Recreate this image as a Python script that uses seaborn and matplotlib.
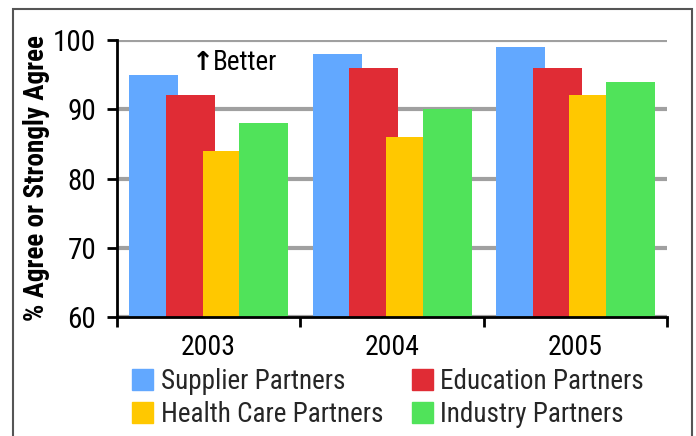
import matplotlib
matplotlib.use("Agg")
import matplotlib.pyplot as plt
import matplotlib.patches as mpatches
import seaborn as sns
import pandas as pd

years = ["2003", "2004", "2005"]
series = ["Supplier Partners", "Education Partners", "Health Care Partners", "Industry Partners"]
supplier = [95, 98, 99]
education = [92, 96, 96]
health = [84, 86, 92]
industry = [88, 90, 94]
colors = ["#62A8FF", "#E02C35", "#FFC800", "#50E35A"]
y_ticks = [60, 70, 80, 90, 100]

sns.set_theme(style="white")
plt.rcParams["font.family"] = ["Roboto Condensed", "DejaVu Sans"]

rows = []
for s, vals in zip(series, [supplier, education, health, industry]):
    for y, v in zip(years, vals):
        rows.append({"Year": y, "Series": s, "Value": v})
df = pd.DataFrame(rows)

fig = plt.figure(figsize=(6.96, 4.36), dpi=100)
ax = fig.add_axes([117/696, 1-317/436, 550/696, 277/436])

sns.barplot(data=df, x="Year", y="Value", hue="Series", hue_order=series,
            palette=colors, width=0.8, saturation=1, ax=ax, legend=False)

# widen bars so they overlap like the original
bw = 49/183.3
for p in ax.patches:
    p.set_x(p.get_x() - 0.033)
    p.set_width(bw)
    p.set_edgecolor("none")
    p.set_linewidth(0)

ax.set_ylim(60, 100)
ax.set_xlim(-0.5, 2.5)
ax.set_yticks(y_ticks)
ax.set_yticklabels([str(t) for t in y_ticks], fontsize=21)
ax.set_xticks([0, 1, 2])
ax.set_xticklabels(years, fontsize=20)
ax.set_xticks([-0.5, 0.5, 1.5, 2.5], minor=True)
ax.tick_params(axis="x", which="major", length=0, pad=12, colors="black")
ax.tick_params(axis="x", which="minor", length=7, width=2, direction="out", color="black", bottom=True)
ax.tick_params(axis="y", length=7, width=2, direction="out", color="black", left=True, pad=8, colors="black")

ax.yaxis.grid(True, color="#A0A0A0", linewidth=3)
ax.set_axisbelow(True)
for side in ["top", "right"]:
    ax.spines[side].set_visible(False)
for side in ["left", "bottom"]:
    ax.spines[side].set_color("black")
    ax.spines[side].set_linewidth(2)

ax.set_xlabel("")
ax.set_ylabel("% Agree or Strongly Agree", fontsize=19.5, fontweight="bold", color="black", labelpad=2)

ax.text(192/696, 1-63/436, "\u2191", transform=fig.transFigure, fontsize=19, fontweight="bold",
        ha="left", va="center", family=["DejaVu Sans"], color="black")
ax.text(213/696, 1-63/436, "Better", transform=fig.transFigure, fontsize=19.5,
        ha="left", va="center", color="black")

handles = [mpatches.Patch(color=c, label=s) for c, s in zip(colors, series)]
order = [0, 2, 1, 3]
fig.legend([handles[i] for i in order], [series[i] for i in order], ncol=2,
           loc="upper left", bbox_to_anchor=(132/696, 1-368/436), frameon=False,
           fontsize=19.5, handlelength=0.78, handleheight=0.78, handletextpad=0.28,
           columnspacing=1.05, labelspacing=0.22, borderaxespad=0, borderpad=0)

frame = mpatches.Rectangle((13/696, -0.05), (692-13)/696, 1.05 - 9/436,
                           transform=fig.transFigure, fill=False, edgecolor="#555555",
                           linewidth=1.5)
fig.patches.append(frame)

fig.savefig("out.png", dpi=100)
